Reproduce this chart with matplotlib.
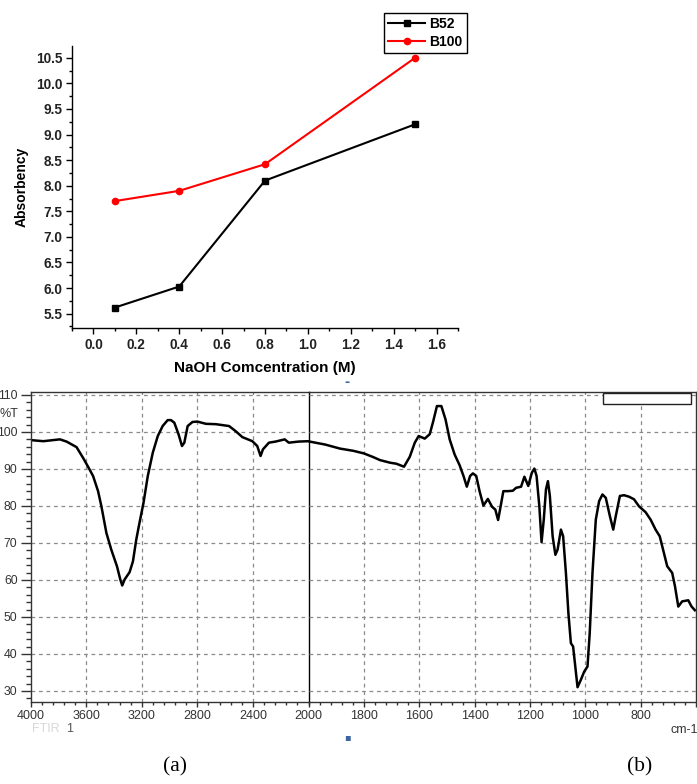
import matplotlib
matplotlib.use('Agg')
import matplotlib.pyplot as plt
from matplotlib.ticker import MultipleLocator
from matplotlib.patches import Rectangle

# ---- (a) absorbency vs NaOH concentration
conc = [0.1, 0.4, 0.8, 1.5]
b52 = [5.62, 6.03, 8.10, 9.20]
b100 = [7.70, 7.90, 8.42, 10.50]

# ---- (b) FTIR spectrum
wn = [4000, 3909, 3790, 3742, 3670, 3623, 3587, 3551, 3515, 3491, 3455, 3420,
      3379, 3355, 3341, 3324, 3288, 3264, 3240, 3217, 3188, 3157, 3121, 3085,
      3050, 3014, 2990, 2966, 2935, 2911, 2894, 2870, 2835, 2799, 2739, 2667,
      2572, 2524, 2476, 2404, 2369, 2345, 2328, 2285, 2237, 2171, 2142, 2070,
      2003, 1940, 1886, 1838, 1800, 1766, 1742, 1706, 1682, 1655, 1634, 1616,
      1602, 1580, 1562, 1550, 1536, 1520, 1505, 1490, 1472, 1454, 1440, 1428,
      1416, 1406, 1394, 1382, 1368, 1352, 1337, 1325, 1315, 1308, 1296, 1280,
      1262, 1250, 1232, 1220, 1206, 1193, 1184, 1176, 1166, 1158, 1150, 1142,
      1135, 1128, 1118, 1108, 1100, 1088, 1080, 1070, 1061, 1052, 1044, 1036,
      1028, 1016, 1004, 992, 984, 974, 962, 950, 938, 926, 911, 899,
      890, 875, 860, 842, 824, 806, 782, 764, 746, 731, 716, 704,
      686, 676, 664, 650, 628, 616, 604]
trans = [97.8, 97.5, 98.0, 97.4, 95.9, 93.0, 90.6, 88.1, 84.0, 79.9, 72.7, 68.2,
         63.7, 60.1, 58.5, 60.1, 62.1, 65.0, 70.9, 75.4, 80.8, 88.1, 94.4, 98.9,
         101.6, 103.2, 103.2, 102.5, 99.3, 96.2, 97.1, 101.6, 102.7, 102.8, 102.2, 102.1,
         101.6, 100.2, 98.6, 97.5, 96.2, 93.5, 95.3, 97.1, 97.4, 98.0, 97.1, 97.4,
         97.5, 96.6, 95.5, 94.9, 94.2, 93.2, 92.4, 91.7, 91.4, 90.6, 93.3, 97.1,
         98.9, 98.2, 99.4, 102.7, 107.0, 107.0, 103.4, 98.0, 93.9, 91.0, 88.1, 85.2,
         88.1, 88.8, 88.1, 84.0, 80.1, 81.9, 79.8, 79.0, 76.2, 79.0, 84.0, 84.0,
         84.1, 84.9, 85.2, 87.9, 85.4, 89.0, 90.1, 88.1, 79.9, 70.2, 76.3, 84.5,
         86.7, 82.7, 71.8, 66.8, 68.2, 73.6, 71.8, 61.9, 51.0, 42.9, 42.0, 36.6,
         31.0, 33.0, 35.2, 36.6, 45.6, 61.9, 76.3, 81.3, 83.1, 82.2, 77.2, 73.6,
         77.2, 82.7, 82.9, 82.5, 81.8, 79.9, 78.3, 76.3, 73.6, 71.8, 67.3, 63.7,
         61.9, 58.3, 52.8, 54.2, 54.5, 52.8, 51.8]

W, H = 697, 784
fig = plt.figure(figsize=(W / 100, H / 100), dpi=100)

bold = dict(family='Liberation Sans', weight='bold')

# ================= top chart
ax = fig.add_axes([72 / W, 1 - 328 / H, (458 - 72) / W, (328 - 46) / H])
ax.plot(conc, b52, color='black', lw=1.5, marker='s', ms=4.5, label='B52')
ax.plot(conc, b100, color='red', lw=1.5, marker='o', ms=4.5, label='B100')
ax.set_xlim(-0.1, 1.7)
ax.set_ylim(5.22, 10.73)
ax.xaxis.set_minor_locator(MultipleLocator(0.1))
ax.yaxis.set_minor_locator(MultipleLocator(0.25))
ax.set_xticks([0, 0.2, 0.4, 0.6, 0.8, 1.0, 1.2, 1.4, 1.6])
ax.set_xticklabels(['0.0', '0.2', '0.4', '0.6', '0.8', '1.0', '1.2', '1.4', '1.6'])
ax.set_yticks([5.5, 6.0, 6.5, 7.0, 7.5, 8.0, 8.5, 9.0, 9.5, 10.0, 10.5])
ax.set_yticklabels(['5.5', '6.0', '6.5', '7.0', '7.5', '8.0', '8.5', '9.0', '9.5', '10.0', '10.5'])
ax.spines['top'].set_visible(False)
ax.spines['right'].set_visible(False)
for s in ['left', 'bottom']:
    ax.spines[s].set_linewidth(1.0)
ax.tick_params(which='major', direction='out', length=4, width=1, pad=3)
ax.tick_params(which='minor', direction='out', length=2.2, width=1)
for lab in ax.get_xticklabels() + ax.get_yticklabels():
    lab.set_fontproperties(bold)
    lab.set_fontsize(9.8)
    lab.set_color('#222222')
ax.set_xlabel('NaOH Comcentration (M)', fontsize=11, labelpad=7, **bold)
ax.set_ylabel('Absorbency', fontsize=10, labelpad=5, **bold)
leg = fig.legend(loc='upper right', bbox_to_anchor=(467 / W, 1 - 13 / H),
                 prop=dict(family='Liberation Sans', weight='bold', size=10),
                 fancybox=False, edgecolor='black', framealpha=1,
                 handlelength=2.7, handletextpad=0.3, borderpad=0.3,
                 labelspacing=0.25, borderaxespad=0)
leg.get_frame().set_linewidth(1.0)

# ================= FTIR chart
bot = 1 - 702 / H
hgt = (702 - 392) / H
split = 308.5
axl = fig.add_axes([30.7 / W, bot, (split - 30.7) / W, hgt])
axr = fig.add_axes([split / W, bot, (696 - split) / W, hgt])
axr.patch.set_visible(False)

grid = dict(color='#8a8a8a', lw=0.9, ls=(0, (3, 3)))
for a in (axl, axr):
    a.plot(wn, trans, color='black', lw=1.8, solid_joinstyle='round')
    a.set_ylim(27, 110.8)
    a.set_yticks(range(30, 111, 10))
    a.yaxis.set_minor_locator(MultipleLocator(2))
    for y in range(30, 111, 10):
        a.axhline(y, **grid, zorder=0)
    for s in a.spines.values():
        s.set_color('#333333')
        s.set_linewidth(1.0)
    a.tick_params(which='major', direction='out', length=3.5, width=1,
                  colors='#333333', labelsize=9, pad=2)
    a.tick_params(which='minor', direction='out', length=2, width=1, colors='#333333')

axl.set_xlim(4000, 2000)
axl.set_xticks(range(4000, 1999, -400))
axl.xaxis.set_minor_locator(MultipleLocator(80))
axl.tick_params(axis='y', which='major', length=7, pad=2.5, labelsize=8.8)
axl.tick_params(axis='y', which='minor', length=3.5)
for x in range(3600, 2001, -400):
    axl.axvline(x, **grid, zorder=0)
axl.spines['right'].set_color('black')
axl.spines['right'].set_zorder(10)

axr.set_xlim(2000, 600)
axr.set_xticks(range(1800, 599, -200))
axr.set_xticklabels([str(v) for v in range(1800, 799, -200)] + [''])
axr.xaxis.set_minor_locator(MultipleLocator(40))
axr.spines['left'].set_visible(False)
axr.tick_params(axis='y', which='both', left=False, labelleft=False)
for x in range(1800, 799, -200):
    axr.axvline(x, **grid, zorder=0)

for lab in axl.get_xticklabels() + axl.get_yticklabels() + axr.get_xticklabels():
    lab.set_family('Liberation Sans')

# empty legend box of the instrument software
axr.add_patch(Rectangle((602.7 / W, 1 - 404.3 / H), (690.7 - 602.7) / W, (404.3 - 392.7) / H,
                        transform=fig.transFigure, fill=True, facecolor='white',
                        edgecolor='#222222', lw=1.0, zorder=5, clip_on=False))

fig.text(0 / W, 1 - 414 / H, '%T', fontsize=9, color='#333333', family='Liberation Sans',
         ha='left', va='center')
fig.text(684 / W, 1 - 730 / H, 'cm-1', fontsize=9, color='#333333', family='Liberation Sans',
         ha='center', va='center')
fig.text(32 / W, 1 - 729 / H, 'FTIR', fontsize=9, color='#d8d8d8', family='Liberation Sans',
         ha='left', va='center')
fig.text(66 / W, 1 - 729 / H, '1', fontsize=9, color='#555555', family='Liberation Sans',
         ha='left', va='center')
fig.text(347 / W, 1 - 383 / H, '-', fontsize=9, color='#3b64a0', ha='center', va='center',
         weight='bold')
fig.text(347 / W, 1 - 737 / H, '\u25aa', fontsize=7, color='#3b64a0', ha='center', va='center')

fig.text(175 / W, 1 - 767 / H, '(a)', fontsize=15.5, family='Liberation Serif', ha='center', va='center')
fig.text(640 / W, 1 - 767 / H, '(b)', fontsize=15.5, family='Liberation Serif', ha='center', va='center')

fig.savefig('out.png', dpi=100)
